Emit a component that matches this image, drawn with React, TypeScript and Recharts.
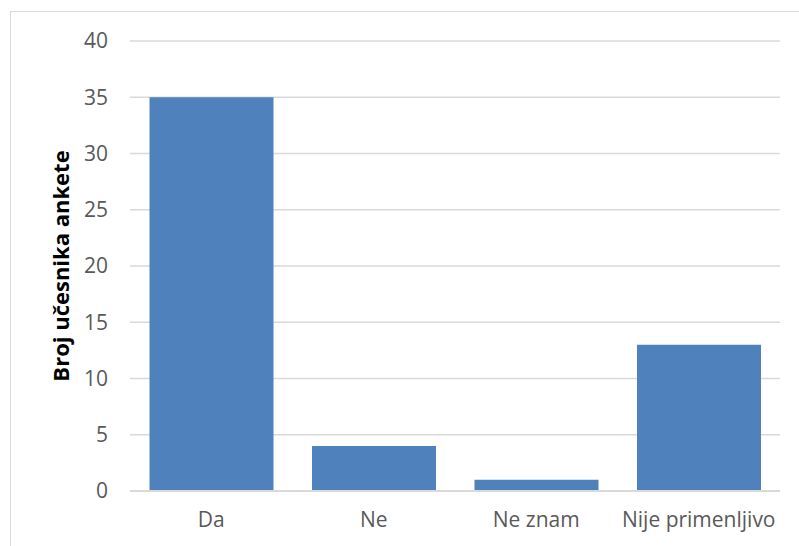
import React from "react";
import { BarChart, Bar, XAxis, YAxis, CartesianGrid, Label } from "recharts";

const categories = ["Da", "Ne", "Ne znam", "Nije primenljivo"];
const counts = [35, 4, 1, 13];
const yTicks = [0, 5, 10, 15, 20, 25, 30, 35, 40];
const yTitle = "Broj učesnika ankete";

const data = categories.map((name, i) => ({ name, value: counts[i] }));

const FONT = "'Open Sans', 'Noto Sans', sans-serif";
const TEXT = "#595959";
const GRID = "#D9D9D9";

export default function App() {
  return (
    <div style={{ position: "absolute", left: 0, top: 0, width: 799, height: 546, background: "#fff", overflow: "hidden" }}>
      <div
        style={{
          position: "absolute",
          left: 10,
          top: 11,
          width: 820,
          height: 560,
          border: `1.5px solid ${GRID}`,
          boxSizing: "border-box",
        }}
      />
      <div style={{ position: "absolute", left: 0, top: 0 }}>
        <BarChart
          width={799}
          height={546}
          data={data}
          margin={{ top: 41, right: 19, bottom: 0, left: 0 }}
          barCategoryGap="12%"
        >
          <CartesianGrid vertical={false} stroke={GRID} strokeWidth={1.5} />
          <XAxis
            dataKey="name"
            height={55}
            axisLine={{ stroke: GRID, strokeWidth: 2 }}
            tickLine={false}
            tickSize={0}
            tickMargin={21}
            tick={{ fill: TEXT, fontSize: 21, fontFamily: FONT }}
          />
          <YAxis
            width={130}
            domain={[0, 40]}
            ticks={yTicks}
            axisLine={false}
            tickLine={false}
            tickSize={0}
            tickMargin={22}
            tick={{ fill: TEXT, fontSize: 21, fontFamily: FONT }}
          >
            <Label
              value={yTitle}
              angle={-90}
              position="center"
              dx={-4}
              style={{ fill: "#000", fontSize: 22, fontWeight: 700, fontFamily: FONT }}
            />
          </YAxis>
          <Bar dataKey="value" fill="#4F81BD" isAnimationActive={false} />
        </BarChart>
      </div>
    </div>
  );
}
